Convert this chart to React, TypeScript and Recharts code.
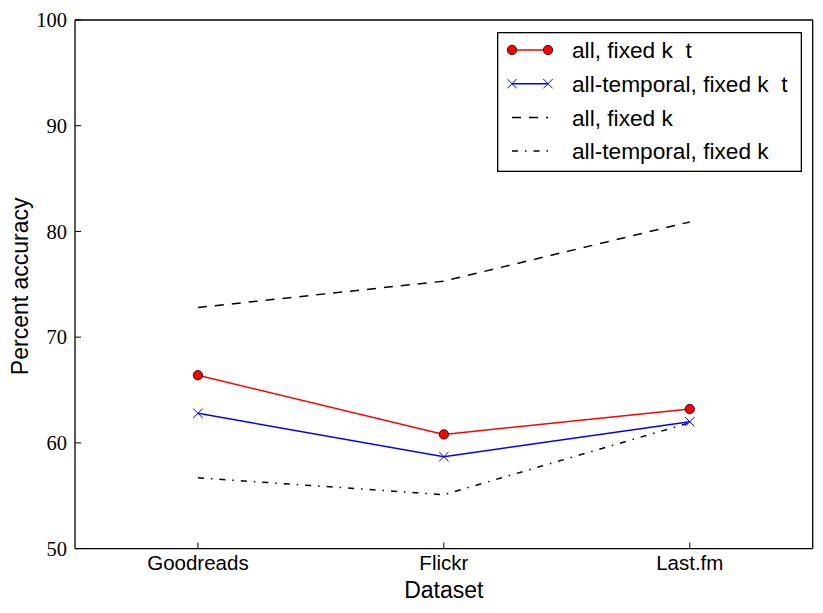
import { LineChart, Line, XAxis, YAxis, Legend, Label } from "recharts";

const categories = ["Goodreads", "Flickr", "Last.fm"];
const allFixedKt = [66.4, 60.8, 63.2];
const temporalFixedKt = [62.8, 58.7, 62.0];
const allFixedK = [72.8, 75.3, 80.9];
const temporalFixedK = [56.7, 55.1, 61.9];
const yTicks = [50, 60, 70, 80, 90, 100];
const xTicks = [0, 1, 2];
const seriesNames = [
  "all, fixed k  t",
  "all-temporal, fixed k  t",
  "all, fixed k",
  "all-temporal, fixed k",
];

const data = categories.map((name, i) => ({
  idx: i,
  name,
  allFixedKt: allFixedKt[i],
  temporalFixedKt: temporalFixedKt[i],
  allFixedK: allFixedK[i],
  temporalFixedK: temporalFixedK[i],
}));

const SANS = "'Liberation Sans', Arial, sans-serif";
const SERIF = "'Liberation Serif', 'Times New Roman', serif";
const DASH = "9 8";
const DASH_DOT = "6 7 1.5 7";

function CrossDot(props: any) {
  const { cx, cy } = props;
  if (cx == null || cy == null) return null;
  const s = 4.7;
  return (
    <path
      d={`M${cx - s},${cy - s}L${cx + s},${cy + s}M${cx - s},${cy + s}L${cx + s},${cy - s}`}
      stroke="#0000ff"
      strokeWidth={1}
      fill="none"
    />
  );
}

function LegendBox() {
  const rowY = (i: number) => 18 + i * 33.7;
  return (
    <svg width={305} height={140} style={{ display: "block" }}>
      <rect x={0.65} y={0.65} width={303.7} height={138.7} fill="#fff" stroke="#000" strokeWidth={1.3} />
      {/* red circles */}
      <line x1={15} x2={51} y1={rowY(0)} y2={rowY(0)} stroke="#ff0000" strokeWidth={1.5} />
      <circle cx={15} cy={rowY(0)} r={4.7} fill="#ff0000" stroke="#000" strokeWidth={0.8} />
      <circle cx={51} cy={rowY(0)} r={4.7} fill="#ff0000" stroke="#000" strokeWidth={0.8} />
      {/* blue crosses */}
      <line x1={15} x2={51} y1={rowY(1)} y2={rowY(1)} stroke="#0000ff" strokeWidth={1.5} />
      <CrossDot cx={15} cy={rowY(1)} />
      <CrossDot cx={51} cy={rowY(1)} />
      <line x1={15} x2={51} y1={rowY(2)} y2={rowY(2)} stroke="#000" strokeWidth={1.5} strokeDasharray={DASH} />
      <line x1={15} x2={51} y1={rowY(3)} y2={rowY(3)} stroke="#000" strokeWidth={1.5} strokeDasharray={DASH_DOT} />
      {seriesNames.map((s, i) => (
        <text
          key={s}
          x={75}
          y={rowY(i)}
          dy="0.36em"
          fontFamily={SANS}
          fontSize={22.7}
          fill="#000"
          style={{ whiteSpace: "pre" }}
        >
          {s}
        </text>
      ))}
    </svg>
  );
}

export default function App() {
  return (
    <div style={{ position: "absolute", left: 0, top: 0, background: "#fff" }}>
      <LineChart
        width={823}
        height={613}
        data={data}
        margin={{ top: 0, right: 0, left: 0, bottom: 0 }}
      >
        <XAxis
          dataKey="idx"
          type="number"
          domain={[-0.5, 2.5]}
          ticks={xTicks}
          tickFormatter={(v: number) => categories[v]}
          height={64.4}
          tickSize={-6}
          tickMargin={12.5}
          axisLine={{ stroke: "#000", strokeWidth: 1.3 }}
          tickLine={{ stroke: "#000", strokeWidth: 1 }}
          tick={{ fontFamily: SANS, fontSize: 20.5, fill: "#000" }}
        >
          <Label
            content={(p: any) => {
              const vb = p.viewBox;
              return (
                <text
                  x={vb.x + vb.width / 2}
                  y={vb.y + 49}
                  textAnchor="middle"
                  fontFamily={SANS}
                  fontSize={23}
                  fill="#000"
                >
                  Dataset
                </text>
              );
            }}
          />
        </XAxis>
        <XAxis
          xAxisId="top"
          orientation="top"
          type="number"
          domain={[-0.5, 2.5]}
          ticks={xTicks}
          height={20}
          tickSize={-6}
          tick={false}
          axisLine={{ stroke: "#000", strokeWidth: 1.3 }}
          tickLine={{ stroke: "#000", strokeWidth: 1 }}
        />
        <YAxis
          type="number"
          domain={[50, 100]}
          ticks={yTicks}
          width={75}
          tickSize={-6}
          tickMargin={14}
          axisLine={{ stroke: "#000", strokeWidth: 1.3 }}
          tickLine={{ stroke: "#000", strokeWidth: 1 }}
          tick={{ fontFamily: SERIF, fontSize: 20.5, fill: "#000" }}
        >
          <Label
            content={(p: any) => {
              const vb = p.viewBox;
              const cx = vb.x + 20;
              const cy = vb.y + vb.height / 2 + 2;
              return (
                <text
                  x={cx}
                  y={cy}
                  dy="0.36em"
                  transform={`rotate(-90 ${cx} ${cy})`}
                  textAnchor="middle"
                  fontFamily={SANS}
                  fontSize={23}
                  fill="#000"
                >
                  Percent accuracy
                </text>
              );
            }}
          />
        </YAxis>
        <YAxis
          yAxisId="right"
          orientation="right"
          type="number"
          domain={[50, 100]}
          ticks={yTicks}
          width={10.3}
          tickSize={-6}
          tick={false}
          axisLine={{ stroke: "#000", strokeWidth: 1.3 }}
          tickLine={{ stroke: "#000", strokeWidth: 1 }}
        />
        <Legend
          layout="vertical"
          align="center"
          verticalAlign="middle"
          content={() => <LegendBox />}
          wrapperStyle={{ left: 497, top: 32, width: 305, height: 140 }}
        />
        <Line
          dataKey="allFixedK"
          name={seriesNames[2]}
          stroke="#000"
          strokeWidth={1.5}
          strokeDasharray={DASH}
          dot={false}
          activeDot={false}
          isAnimationActive={false}
        />
        <Line
          dataKey="temporalFixedK"
          name={seriesNames[3]}
          stroke="#000"
          strokeWidth={1.5}
          strokeDasharray={DASH_DOT}
          dot={false}
          activeDot={false}
          isAnimationActive={false}
        />
        <Line
          dataKey="temporalFixedKt"
          name={seriesNames[1]}
          stroke="#0000ff"
          strokeWidth={1.5}
          dot={<CrossDot />}
          activeDot={false}
          isAnimationActive={false}
        />
        <Line
          dataKey="allFixedKt"
          name={seriesNames[0]}
          stroke="#ff0000"
          strokeWidth={1.5}
          dot={{ r: 4.7, fill: "#ff0000", stroke: "#000", strokeWidth: 0.8 }}
          activeDot={false}
          isAnimationActive={false}
        />
      </LineChart>
    </div>
  );
}
